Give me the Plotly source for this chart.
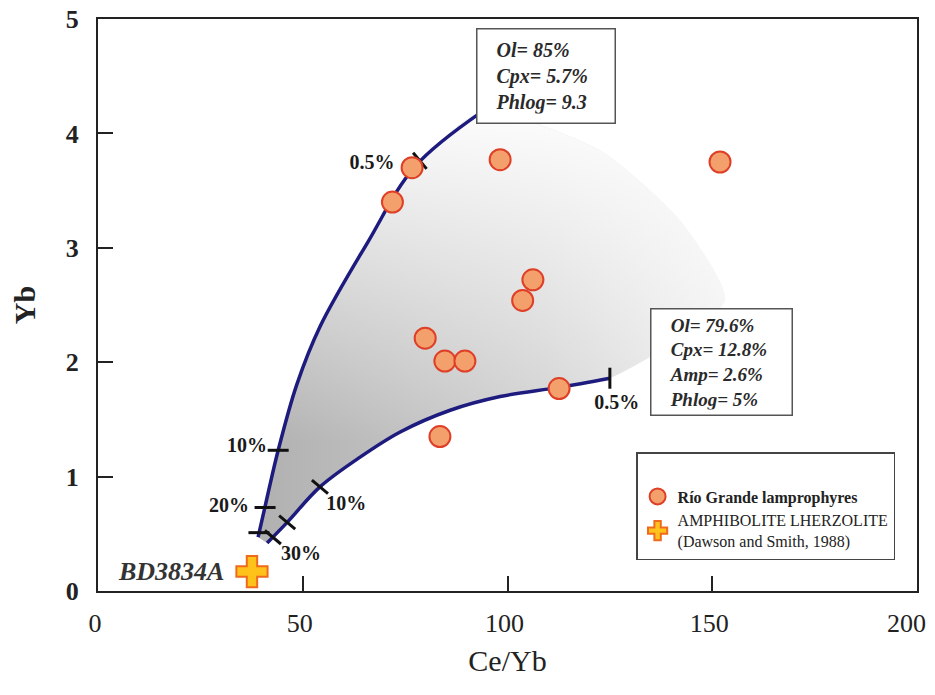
import plotly.graph_objects as go

# ---------------- data ----------------
# Rio Grande lamprophyres
lamp_ceyb = [71.9, 76.7, 98.2, 151.9, 106.2, 103.7, 79.9, 84.7, 89.6, 112.6, 83.5]
lamp_yb = [3.40, 3.70, 3.77, 3.75, 2.72, 2.54, 2.21, 2.01, 2.01, 1.77, 1.35]

# Amphibolite lherzolite BD3834A
bd_ceyb = [37.6]
bd_yb = [0.17]

# melting curve 1 (Ol 85 / Cpx 5.7 / Phlog 9.3)
upper_ceyb = [39.1, 41.5, 44.0, 48.5, 54.2, 65.9, 77.4, 93.8]
upper_yb = [0.47, 0.85, 1.23, 1.80, 2.31, 3.05, 3.71, 4.19]

# melting curve 2 (Ol 79.6 / Cpx 12.8 / Amp 2.6 / Phlog 5)
lower_ceyb = [41.3, 46.2, 54.2, 64.0, 73.8, 86.0, 98.2, 112.6, 125.0]
lower_yb = [0.42, 0.60, 0.91, 1.17, 1.39, 1.58, 1.70, 1.78, 1.86]

# outer edge of the shaded field
edge_ceyb = [122.6, 142.1, 153.1]
edge_yb = [3.85, 3.24, 2.54]

# melting-degree ticks
tick_ceyb = [39.3, 40.8, 44.0, 78.6, 42.7, 46.2, 54.2, 125.0]
tick_yb = [0.51, 0.73, 1.23, 3.76, 0.47, 0.60, 0.91, 1.86]
tick_angle = [0, 0, 0, 50, 40, 40, 40, 90]

# melting-degree labels
pct_text = ["0.5%", "10%", "20%", "30%", "10%", "0.5%"]
pct_ceyb = [66.9, 36.4, 32.0, 49.6, 60.6, 126.7]
pct_yb = [3.73, 1.26, 0.734, 0.315, 0.752, 1.635]

box1_text = ["Ol= 85%", "Cpx= 5.7%", "Phlog= 9.3"]
box2_text = ["Ol= 79.6%", "Cpx= 12.8%", "Amp= 2.6%", "Phlog= 5%"]

x_ticks = [0, 50, 100, 150, 200]
x_ticktext = ["0", "50", "100", "150", ""]   # last label is drawn right-aligned below
x_last_label = "200"
y_ticks = [0, 1, 2, 3, 4, 5]

FONT = "Liberation Serif"
NAVY = "#1d1b7e"

fig = go.Figure()

# shaded field
fx = upper_ceyb + edge_ceyb + lower_ceyb[::-1]
fy = upper_yb + edge_yb + lower_yb[::-1]
fig.add_trace(go.Scatter(
    x=fx, y=fy, mode="lines", fill="toself", line=dict(width=0, shape="spline", smoothing=0.6),
    fillgradient=dict(type="horizontal", start=38, stop=156,
                      colorscale=[[0, "#b0b0b0"], [0.6, "#d0d0d0"], [1, "#f2f2f2"]]),
    showlegend=False, hoverinfo="skip"))
fig.add_trace(go.Scatter(
    x=fx, y=fy, mode="lines", fill="toself", line=dict(width=0, shape="spline", smoothing=0.6),
    fillgradient=dict(type="vertical", start=1.3, stop=4.25,
                      colorscale=[[0, "rgba(255,255,255,0)"], [1, "rgba(255,255,255,0.97)"]]),
    showlegend=False, hoverinfo="skip"))

# curves
for cx, cy in [(upper_ceyb, upper_yb), (lower_ceyb, lower_yb)]:
    fig.add_trace(go.Scatter(x=cx, y=cy, mode="lines",
                             line=dict(color=NAVY, width=3.5, shape="spline", smoothing=1.0),
                             showlegend=False, hoverinfo="skip"))

# ticks
fig.add_trace(go.Scatter(
    x=tick_ceyb, y=tick_yb, mode="markers",
    marker=dict(symbol="line-ew", size=15, angle=tick_angle,
                color="#111", line=dict(color="#111", width=3)),
    showlegend=False, hoverinfo="skip"))

# percentage labels
fig.add_trace(go.Scatter(
    x=pct_ceyb, y=pct_yb, mode="text", text=pct_text,
    textfont=dict(family=FONT, size=20, color="#1a1a1a", weight="bold"),
    showlegend=False, hoverinfo="skip"))

# samples
fig.add_trace(go.Scatter(
    x=lamp_ceyb, y=lamp_yb, mode="markers",
    name="<b>Río Grande lamprophyres</b>",
    marker=dict(symbol="circle", size=21, color="#f4a06c",
                line=dict(color="#de3f26", width=2))))
fig.add_trace(go.Scatter(
    x=bd_ceyb, y=bd_yb, mode="markers",
    name="AMPHIBOLITE LHERZOLITE<br>(Dawson and Smith, 1988)",
    marker=dict(symbol="cross", size=26, color="#ffc21a",
                line=dict(color="#ef6a1c", width=2))))

# BD3834A label
fig.add_annotation(x=bd_ceyb[0], y=bd_yb[0], xref="x", yref="y",
                   text="<b><i>BD3834A</i></b>", showarrow=False,
                   xanchor="right", yanchor="middle", xshift=-26,
                   font=dict(family=FONT, size=26, color="#333"))

# last x tick label, kept inside the page
fig.add_annotation(x=x_ticks[-1], y=0, xref="x", yref="y",
                   text=x_last_label, showarrow=False,
                   xanchor="right", yanchor="middle", xshift=11, yshift=-32,
                   font=dict(family=FONT, size=26, color="#222"))

nb = "&nbsp;"
fig.add_annotation(x=92.3, y=4.92, xref="x", yref="y", xanchor="left", yanchor="top",
                   text="<br>".join(nb * 2 + "<b><i>" + t + "</i></b>" for t in box1_text),
                   showarrow=False, align="left", width=119, borderpad=9,
                   bgcolor="white", bordercolor="#555", borderwidth=1.5,
                   font=dict(family=FONT, size=20, color="#2a2a2a"))
fig.add_annotation(x=134.8, y=2.474, xref="x", yref="y", xanchor="left", yanchor="top",
                   text="<br>".join(nb * 3 + "<b><i>" + t + "</i></b>" for t in box2_text),
                   showarrow=False, align="left", width=130, borderpad=5,
                   bgcolor="white", bordercolor="#555", borderwidth=1.5,
                   font=dict(family=FONT, size=19, color="#2a2a2a"))

# the page body has an 8px margin; keep the figure inside the 935x695 window
fig.update_layout(
    width=919, height=679,
    margin=dict(l=90, r=10, t=11, b=96, autoexpand=False),
    paper_bgcolor="white", plot_bgcolor="white",
    font=dict(family=FONT, color="#222"),
    legend=dict(x=0.657, y=0.243, xanchor="left", yanchor="top",
                bgcolor="white", bordercolor="#444", borderwidth=1.5,
                font=dict(family=FONT, size=16, color="#222"),
                title=dict(text=" ", font=dict(size=20)),
                itemsizing="trace", tracegroupgap=26),
    xaxis=dict(range=[0, 200], tickvals=x_ticks, ticktext=x_ticktext,
               showgrid=False, zeroline=False, showline=True, linecolor="#222", linewidth=2,
               mirror=True, ticks="inside", ticklen=15, tickwidth=2, tickcolor="#222",
               tickfont=dict(family=FONT, size=26, color="#222"), automargin=False,
               ticklabeloverflow="allow", ticklabelstandoff=8, ticklabelshift=-3,
               title=dict(text="Ce/Yb", font=dict(family=FONT, size=30, color="#222"), standoff=13)),
    yaxis=dict(range=[0, 5], tickvals=y_ticks, ticktext=["<b>%d</b>" % v for v in y_ticks],
               showgrid=False, zeroline=False, showline=True, linecolor="#222", linewidth=2,
               mirror=True, ticks="inside", ticklen=15, tickwidth=2, tickcolor="#222",
               tickfont=dict(family=FONT, size=26, color="#222"), ticklabelstandoff=12,
               automargin=False, ticklabeloverflow="allow",
               title=dict(text="<b>Yb</b>", font=dict(family=FONT, size=30, color="#222"), standoff=30)),
)

fig.write_html("out.html")
